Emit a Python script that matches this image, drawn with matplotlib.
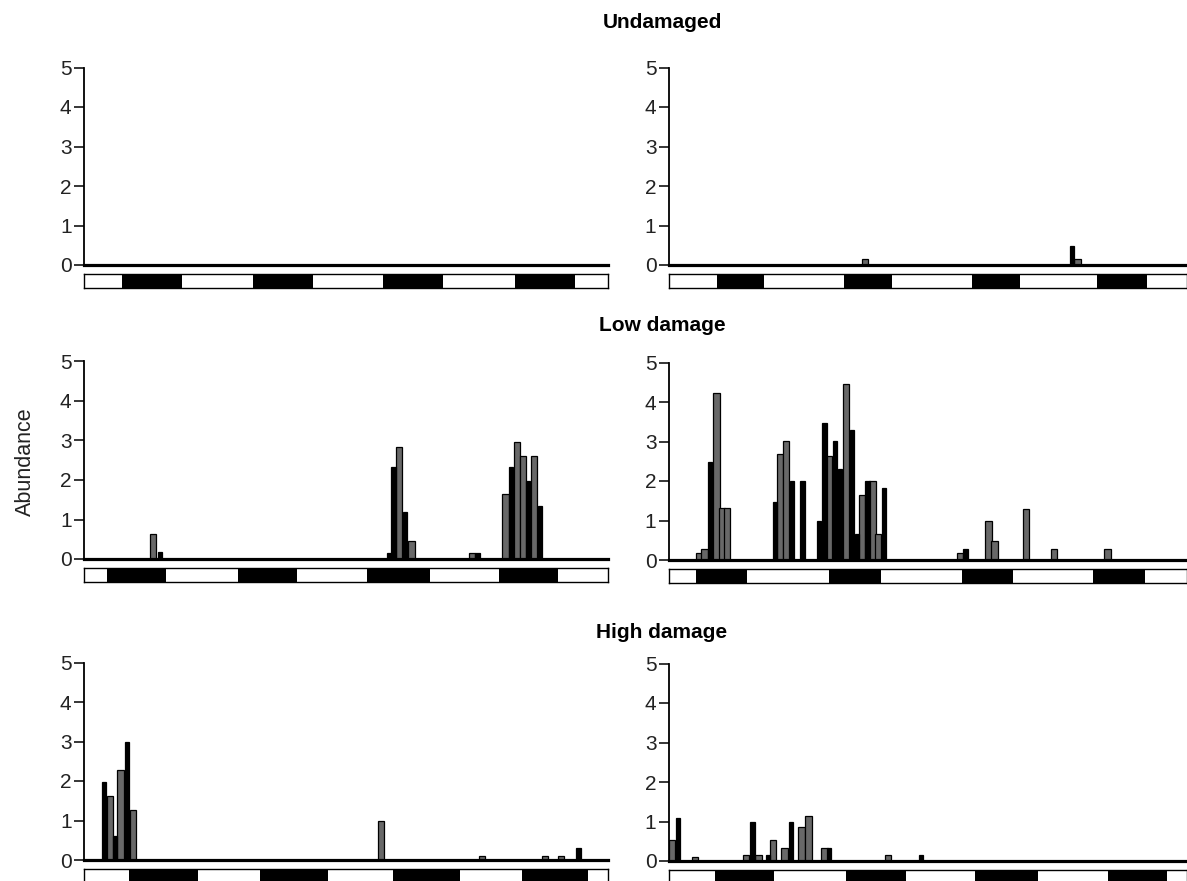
import matplotlib.pyplot as plt

plt.rcParams['font.family'] = ['Liberation Sans', 'DejaVu Sans']

# ---- data (hours, abundance) ----
# Undamaged, left
ud_l_black_h = []
ud_l_black_v = []
ud_l_gray_h = []
ud_l_gray_v = []
ud_l_dark = [(7, 18), (31, 42), (54.8, 65.8), (79, 90)]

# Undamaged, right
ud_r_black_h = [73.9]
ud_r_black_v = [0.49]
ud_r_gray_h = [35.9, 74.9]
ud_r_gray_v = [0.16, 0.16]
ud_r_dark = [(8.8, 17.5), (32.1, 40.9), (55.5, 64.3), (78.5, 87.6)]

# Low damage, left
ld_l_black_h = [13.9, 55.9, 56.7, 58.8, 72.1, 78.2, 81.4, 83.5]
ld_l_black_v = [0.17, 0.15, 2.34, 1.18, 0.15, 2.34, 1.98, 1.35]
ld_l_gray_h = [12.7, 57.7, 60.0, 71.1, 77.2, 79.3, 80.4, 82.4]
ld_l_gray_v = [0.64, 2.83, 0.46, 0.15, 1.65, 2.97, 2.62, 2.62]
ld_l_dark = [(4.2, 15.0), (28.2, 39.0), (51.9, 63.3), (76.1, 86.9)]

# Low damage, right
ld_r_black_h = [7.5, 19.4, 22.5, 24.5, 27.5, 28.5, 30.5, 31.4, 33.6, 34.5,
                36.4, 39.4, 54.4]
ld_r_black_v = [2.49, 1.48, 2.0, 2.0, 0.99, 3.48, 3.01, 2.30, 3.29, 0.66,
                2.0, 1.83, 0.28]
ld_r_gray_h = [5.5, 6.5, 8.7, 9.7, 10.6, 20.3, 21.4, 29.4, 32.4, 35.4,
               37.3, 38.3, 53.4, 58.6, 59.7, 65.5, 70.6, 80.4]
ld_r_gray_v = [0.18, 0.29, 4.22, 1.31, 1.31, 2.68, 3.01, 2.64, 4.45, 1.65,
               2.0, 0.66, 0.18, 0.98, 0.47, 1.28, 0.28, 0.28]
ld_r_dark = [(5.0, 14.3), (29.3, 38.8), (53.7, 63.0), (77.7, 87.3)]

# High damage, left
hd_l_black_h = [3.7, 5.7, 7.9, 90.6]
hd_l_black_v = [1.97, 0.62, 2.98, 0.30]
hd_l_gray_h = [4.7, 6.7, 9.0, 54.4, 72.9, 84.4, 87.4]
hd_l_gray_v = [1.63, 2.28, 1.27, 1.0, 0.10, 0.10, 0.10]
hd_l_dark = [(8.2, 20.8), (32.2, 44.7), (56.7, 68.8), (80.3, 92.4)]

# High damage, right
hd_r_black_h = [1.7, 15.3, 18.1, 22.4, 29.4, 46.2]
hd_r_black_v = [1.10, 1.0, 0.15, 1.0, 0.34, 0.14]
hd_r_gray_h = [0.5, 4.8, 14.1, 16.4, 19.1, 21.2, 24.3, 25.6, 28.5, 40.1]
hd_r_gray_v = [0.53, 0.10, 0.15, 0.15, 0.53, 0.34, 0.86, 1.13, 0.34, 0.14]
hd_r_dark = [(8.5, 19.2), (32.5, 43.5), (56.2, 67.6), (80.5, 91.4)]

row_titles = ['Undamaged', 'Low damage', 'High damage']

W, H = 1187, 881
fig = plt.figure(figsize=(W / 100, H / 100), dpi=100)


def px_axes(x0, x1, y_top, y_bot):
    return fig.add_axes([x0 / W, 1 - y_bot / H, (x1 - x0) / W, (y_bot - y_top) / H])


def panel(x0, x1, y0, hmax, black_h, black_v, gray_h, gray_v, dark):
    ax = px_axes(x0, x1, y0 - 197.5, y0)
    ax.bar(gray_h, gray_v, width=1.15, color='#686868', edgecolor='black',
           linewidth=0.9, zorder=2)
    ax.bar(black_h, black_v, width=0.8, color='black', edgecolor='black',
           linewidth=0.9, zorder=2)
    ax.set_xlim(0, hmax)
    ax.set_ylim(0, 5)
    ax.set_yticks([0, 1, 2, 3, 4, 5])
    ax.set_xticks([])
    ax.spines['top'].set_visible(False)
    ax.spines['right'].set_visible(False)
    ax.spines['left'].set_linewidth(1.3)
    ax.spines['bottom'].set_linewidth(2.3)
    ax.spines['bottom'].set_zorder(3)
    ax.tick_params(axis='y', length=7, width=1.1, direction='out',
                   labelsize=15, pad=2, labelcolor='#222222')

    # light / dark bar under the panel
    lb = px_axes(x0, x1, y0 + 9, y0 + 23)
    lb.set_xlim(0, hmax)
    lb.set_ylim(0, 1)
    for s, e in dark:
        lb.axvspan(s, e, color='black', lw=0)
    lb.set_xticks([])
    lb.set_yticks([])
    for sp in lb.spines.values():
        sp.set_linewidth(1.0)
    return ax


panel(84, 608, 265, 96, ud_l_black_h, ud_l_black_v, ud_l_gray_h, ud_l_gray_v, ud_l_dark)
panel(669, 1187, 265, 95, ud_r_black_h, ud_r_black_v, ud_r_gray_h, ud_r_gray_v, ud_r_dark)
panel(84, 608, 559, 96, ld_l_black_h, ld_l_black_v, ld_l_gray_h, ld_l_gray_v, ld_l_dark)
panel(669, 1187, 560, 95, ld_r_black_h, ld_r_black_v, ld_r_gray_h, ld_r_gray_v, ld_r_dark)
panel(84, 608, 860, 96, hd_l_black_h, hd_l_black_v, hd_l_gray_h, hd_l_gray_v, hd_l_dark)
panel(669, 1187, 861, 95, hd_r_black_h, hd_r_black_v, hd_r_gray_h, hd_r_gray_v, hd_r_dark)

for title, y in zip(row_titles, [22, 326, 632]):
    fig.text(662 / W, 1 - y / H, title, ha='center', va='center',
             fontsize=15, fontweight='bold')

fig.text(25 / W, 1 - 462 / H, 'Abundance', rotation=90, ha='center',
         va='center', fontsize=15.5, color='#222222')

fig.savefig('out.png', dpi=100)
